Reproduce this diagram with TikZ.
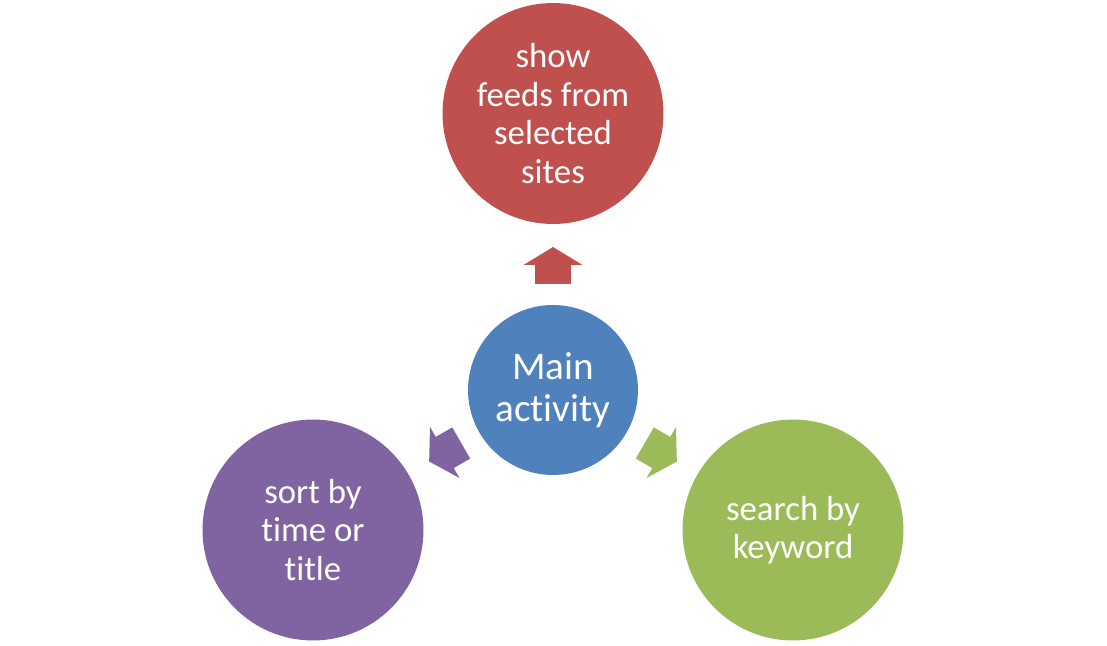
\documentclass[tikz,border=0pt]{standalone}
\usepackage{fontspec}
\setmainfont[Ligatures=NoCommon]{Carlito}
\usetikzlibrary{positioning,calc}
\definecolor{ActRed}{HTML}{C0504D}
\definecolor{ActBlue}{HTML}{4F81BD}
\definecolor{ActPurple}{HTML}{8064A2}
\definecolor{ActGreen}{HTML}{9BBB59}
\tikzset{
  bubble/.style={circle,inner sep=0pt,minimum size=4.42cm,text=white,align=center,
    font=\fontsize{19.8}{21.9}\selectfont},
  hub/.style={circle,inner sep=0pt,minimum size=3.4cm,text=white,align=center,
    font=\fontsize{22.3}{23.9}\selectfont},
}
\begin{document}
\begin{tikzpicture}[x=0.02cm,y=0.02cm]
\useasboundingbox (0,0) rectangle (1107,646);
\node[hub,fill=ActBlue] (main) at (553,256) {Main\\activity};
\node[bubble,fill=ActRed] (feeds) at (553,532.5) {show\\feeds from\\selected\\sites};
\node[bubble,fill=ActPurple] (sort) at (313,116) {sort by\\time or\\title};
\node[bubble,fill=ActGreen] (search) at (793,116) {search by\\keyword};
% block arrows out of the hub
\foreach \ang/\col in {90/ActRed,210/ActPurple,-30/ActGreen}
  \fill[\col,shift={($(main)+(\ang:124.5)$)},rotate=\ang]
    (-18.5,-18) -- (0.5,-18) -- (0.5,-29.5) -- (18.5,0) -- (0.5,29.5)
    -- (0.5,18) -- (-18.5,18) -- cycle;
\end{tikzpicture}
\end{document}
